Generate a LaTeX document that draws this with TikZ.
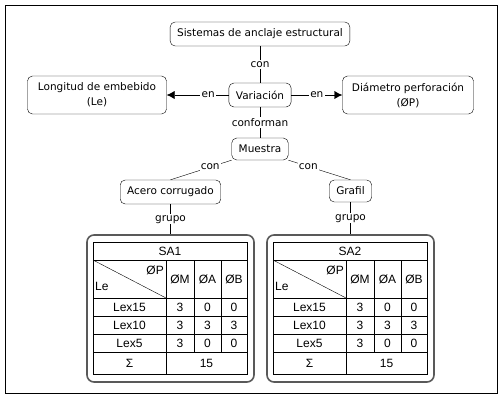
\documentclass[tikz,border=0pt]{standalone}
\usepackage{fontspec}
\setmainfont{DejaVu Sans}
\newfontfamily\tabfont{Liberation Sans}
\usetikzlibrary{
    arrows.meta,
    positioning,
}
\tikzset{
    concept/.style={draw, rounded corners=5pt, fill=white, inner xsep=7pt, minimum height=24pt, align=center, font=\fontsize{10.5}{15}\selectfont},
    linkword/.style={fill=white, inner sep=1.2pt, font=\fontsize{10.5}{12}\selectfont},
    groupbox/.style={draw=black!65, line width=1.6pt, rounded corners=7pt, minimum width=167pt, minimum height=147pt},
    cell/.style={inner sep=0pt, font=\tabfont\fontsize{12}{14}\selectfont},
}

\begin{document}
\begin{tikzpicture}[x=1pt, y=-1pt]
        \useasboundingbox (0,0) rectangle (504,400);
        \draw (5,5) rectangle (497,393);
        % concept map
        \node[concept] (sistemas) at (260,34) {Sistemas de anclaje estructural};
        \node[concept] (variacion) at (260,95) {Variación};
        \node[concept, minimum height=38pt, minimum width=139pt] (longitud) at (97,95) {Longitud de embebido\\(Le)};
        \node[concept, minimum height=38pt, minimum width=131pt] (diametro) at (408,95) {Diámetro perforación\\(ØP)};
        \node[concept, minimum height=22pt] (muestra) at (260,149) {Muestra};
        \node[concept] (acero) at (170.5,192) {Acero corrugado};
        \node[concept, minimum height=22pt] (grafil) at (350.5,191) {Grafil};
        % tables
        \foreach \ox/\nm/\titulo in {0/A/SA1, 180/B/SA2} {
            \begin{scope}[xshift=\ox]
                \node[groupbox] (box\nm) at (170.5,308.5) {};
                \draw[line width=0.9pt] (93,242) rectangle (247,374);
                \foreach \yy in {260,298,316,334,352}
                    \draw (93,\yy) -- (247,\yy);
                \draw (166,260) -- (166,374);
                \draw (194,260) -- (194,352);
                \draw (221,260) -- (221,352);
                \draw (93,260) -- (166,298);
                \node[cell] at (170,251) {\titulo};
                \node[cell, anchor=east] at (164,270) {ØP};
                \node[cell, anchor=west] at (95,286) {Le};
                \node[cell] at (180,279) {ØM};
                \node[cell] at (207.5,279) {ØA};
                \node[cell] at (234,279) {ØB};
                \foreach \fila/\yy/\va/\vb/\vc in {Lex15/307/3/0/0, Lex10/325/3/3/3, Lex5/343/3/0/0} {
                    \node[cell] at (129.5,\yy) {\fila};
                    \node[cell] at (180,\yy) {\va};
                    \node[cell] at (207.5,\yy) {\vb};
                    \node[cell] at (234,\yy) {\vc};
                }
                \node[cell] at (129.5,363) {Σ};
                \node[cell] at (206.5,363) {15};
            \end{scope}
        }
        % links
        \draw (sistemas) -- node[linkword] {con} (variacion);
        \draw[-{Latex[length=8pt, width=8pt]}] (variacion) -- node[linkword, pos=0.33] {en} (longitud);
        \draw[-{Latex[length=8pt, width=8pt]}] (variacion) -- node[linkword] {en} (diametro);
        \draw (variacion) -- node[linkword] {conforman} (muestra);
        \draw (muestra.south west) -- node[linkword, pos=0.35] {con} (acero.north);
        \draw (muestra.south east) -- node[linkword, pos=0.32] {con} (grafil.north);
        \draw (acero) -- node[linkword] {grupo} (boxA);
        \draw (grafil) -- node[linkword] {grupo} (boxB);
    \end{tikzpicture}
\end{document}
